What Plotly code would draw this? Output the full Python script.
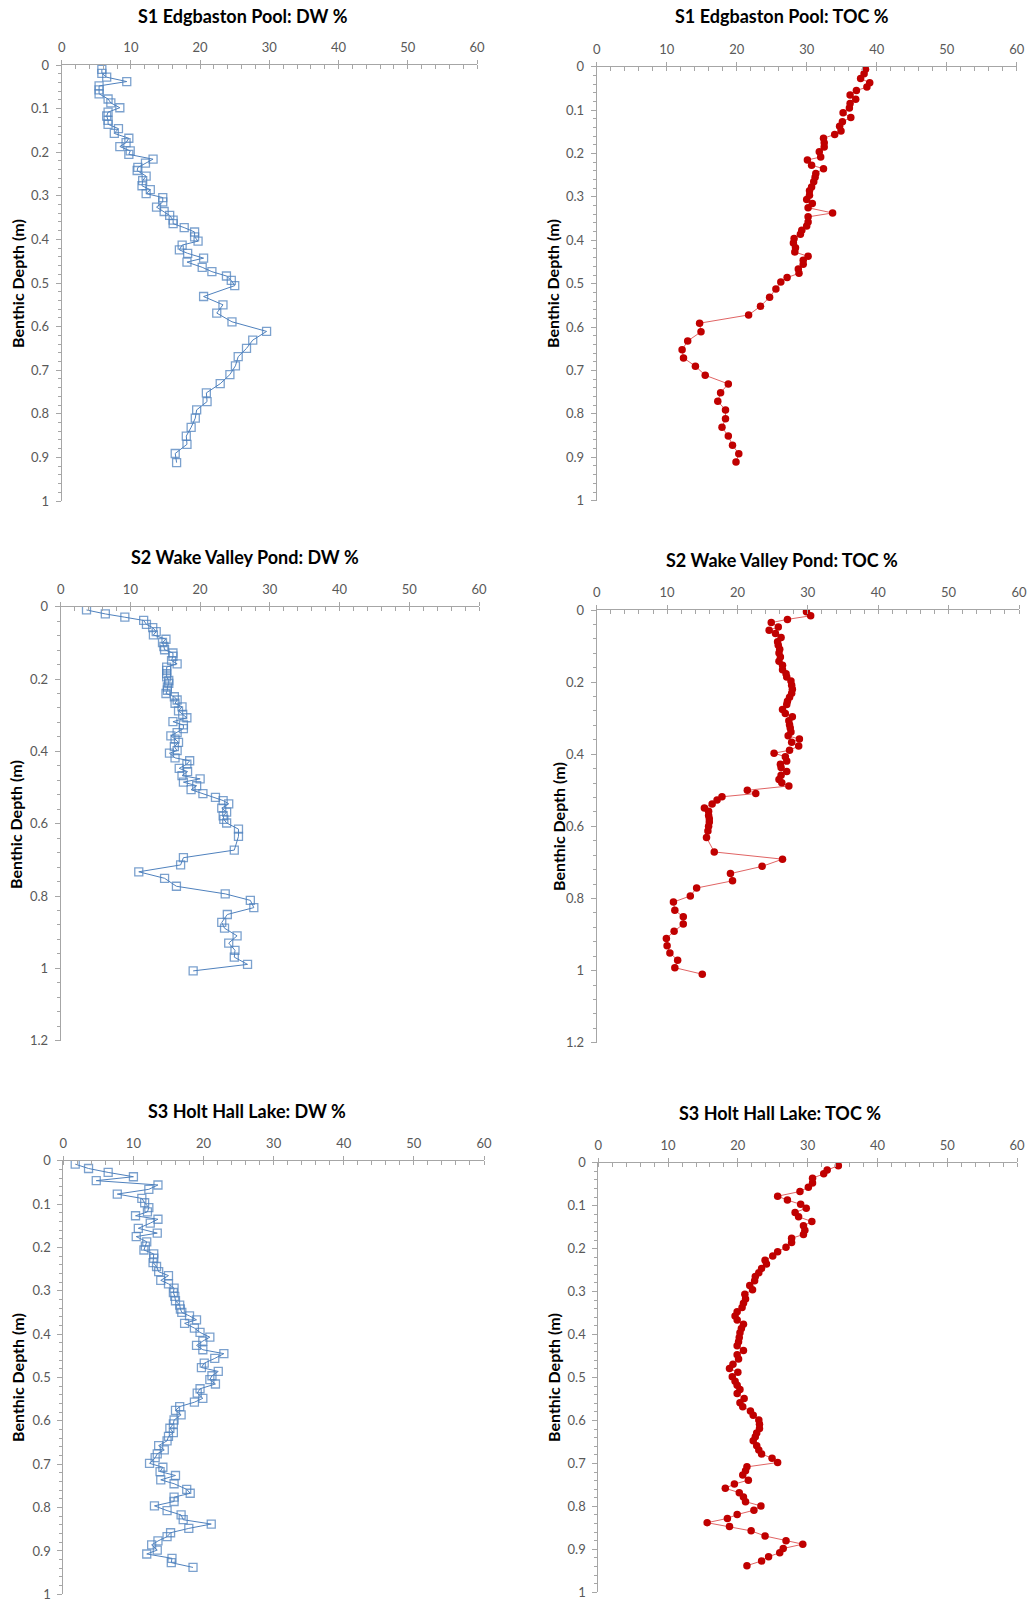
import plotly.graph_objects as go

W, H = 1033, 1602

# ---------------- data ----------------
s1_dw_depth = [0.010, 0.019, 0.028, 0.038, 0.048, 0.057, 0.066, 0.078, 0.087, 0.098, 0.108, 0.117, 0.127, 0.136,
               0.146, 0.157, 0.168, 0.178, 0.187, 0.197, 0.205, 0.216, 0.225, 0.235, 0.242, 0.255, 0.265, 0.277,
               0.286, 0.295, 0.304, 0.314, 0.326, 0.336, 0.345, 0.356, 0.364, 0.373, 0.383, 0.394, 0.404, 0.413,
               0.424, 0.432, 0.443, 0.452, 0.464, 0.474, 0.484, 0.494, 0.506, 0.531, 0.550, 0.569, 0.589, 0.611,
               0.631, 0.650, 0.669, 0.690, 0.710, 0.731, 0.752, 0.772, 0.791, 0.810, 0.831, 0.851, 0.870, 0.891,
               0.912]
s1_dw = [5.8, 5.8, 6.5, 9.4, 5.4, 5.4, 5.4, 6.7, 7.1, 8.4, 6.7, 6.5, 6.7, 6.7,
         8.2, 7.6, 9.7, 9.3, 8.4, 9.9, 9.7, 13.2, 12.1, 11.0, 10.9, 12.2, 11.7, 11.6,
         12.8, 12.2, 14.6, 14.6, 13.7, 14.8, 15.6, 16.1, 16.1, 17.7, 19.2, 19.2, 19.7, 17.4,
         17.0, 18.2, 20.5, 18.1, 20.3, 21.7, 23.8, 24.5, 25.0, 20.5, 23.3, 22.4, 24.6, 29.6,
         27.6, 26.7, 25.5, 25.1, 24.3, 22.9, 20.9, 21.0, 19.5, 19.3, 18.7, 18.0, 18.1, 16.4,
         16.6]

s1_toc_depth = [0.006, 0.016, 0.027, 0.037, 0.047, 0.055, 0.065, 0.075, 0.085, 0.095, 0.106, 0.117, 0.127, 0.137,
                0.148, 0.156, 0.165, 0.175, 0.185, 0.196, 0.208, 0.215, 0.227, 0.235, 0.246, 0.255, 0.265, 0.277,
                0.286, 0.296, 0.306, 0.315, 0.325, 0.337, 0.346, 0.358, 0.367, 0.377, 0.386, 0.396, 0.406, 0.417,
                0.427, 0.437, 0.446, 0.455, 0.466, 0.476, 0.486, 0.496, 0.512, 0.531, 0.552, 0.572, 0.591, 0.611,
                0.632, 0.652, 0.671, 0.690, 0.711, 0.731, 0.751, 0.771, 0.791, 0.811, 0.831, 0.851, 0.872, 0.892,
                0.911]
s1_toc = [38.4, 38.2, 37.7, 39.0, 38.6, 37.1, 36.2, 37.0, 36.2, 36.1, 35.2, 36.3, 35.1, 34.7,
          34.9, 34.0, 32.4, 32.5, 32.5, 31.8, 32.0, 30.1, 30.7, 32.4, 31.3, 31.2, 31.0, 30.7,
          30.4, 30.4, 30.0, 30.8, 30.2, 33.7, 30.2, 30.2, 30.0, 29.3, 29.1, 28.2, 28.1, 28.4,
          28.3, 30.2, 29.5, 29.5, 28.8, 28.9, 27.2, 26.3, 25.6, 24.7, 23.4, 21.7, 14.7, 14.9,
          13.0, 12.2, 12.4, 14.1, 15.5, 18.8, 17.7, 17.3, 18.4, 18.4, 17.9, 18.8, 19.4, 20.3,
          19.9]

s2_dw_depth = [0.009, 0.020, 0.029, 0.038, 0.049, 0.058, 0.069, 0.078, 0.090, 0.099, 0.110, 0.119, 0.128, 0.137,
               0.149, 0.158, 0.167, 0.176, 0.185, 0.194, 0.204, 0.212, 0.222, 0.231, 0.240, 0.249, 0.258, 0.267,
               0.277, 0.288, 0.298, 0.307, 0.318, 0.327, 0.337, 0.348, 0.357, 0.366, 0.375, 0.387, 0.398, 0.405,
               0.418, 0.426, 0.435, 0.447, 0.456, 0.467, 0.476, 0.485, 0.495, 0.506, 0.517, 0.527, 0.536, 0.545,
               0.557, 0.568, 0.578, 0.588, 0.598, 0.615, 0.635, 0.673, 0.694, 0.714, 0.733, 0.751, 0.773, 0.794,
               0.812, 0.832, 0.851, 0.873, 0.889, 0.910, 0.930, 0.950, 0.969, 0.989, 1.007]
s2_dw = [3.7, 6.4, 9.2, 11.9, 12.3, 13.2, 13.7, 13.3, 15.1, 14.6, 14.8, 14.9, 16.1, 16.1,
         15.9, 16.7, 15.2, 15.2, 15.2, 15.2, 15.5, 15.5, 15.3, 15.3, 15.1, 16.3, 16.7, 16.4,
         17.4, 16.9, 17.5, 18.1, 16.1, 17.6, 17.6, 16.7, 15.8, 16.4, 16.9, 16.3, 16.7, 15.6,
         16.4, 18.5, 18.1, 17.0, 18.2, 17.4, 20.0, 17.6, 19.5, 18.7, 20.4, 22.2, 23.3, 24.1,
         23.1, 23.8, 23.3, 23.4, 23.8, 25.5, 25.5, 24.9, 17.6, 17.2, 11.2, 14.9, 16.6, 23.6,
         27.2, 27.7, 23.9, 23.1, 23.5, 25.3, 24.1, 25.0, 24.9, 26.8, 19.0]

s2_toc_depth = [0.005, 0.016, 0.026, 0.035, 0.047, 0.056, 0.065, 0.076, 0.088, 0.098, 0.109, 0.119, 0.130, 0.142,
                0.153, 0.166, 0.177, 0.186, 0.197, 0.209, 0.220, 0.231, 0.242, 0.253, 0.262, 0.276, 0.287, 0.296,
                0.307, 0.318, 0.327, 0.338, 0.349, 0.358, 0.367, 0.377, 0.389, 0.397, 0.407, 0.419, 0.428, 0.437,
                0.448, 0.458, 0.470, 0.479, 0.488, 0.500, 0.509, 0.518, 0.527, 0.538, 0.549, 0.558, 0.570, 0.579,
                0.588, 0.600, 0.613, 0.631, 0.671, 0.691, 0.711, 0.731, 0.751, 0.771, 0.793, 0.810, 0.833, 0.851,
                0.871, 0.891, 0.911, 0.931, 0.951, 0.971, 0.992, 1.010]
s2_toc = [29.8, 30.4, 27.1, 24.8, 25.8, 24.5, 25.4, 26.2, 25.7, 25.8, 26.0, 25.9, 26.1, 25.9,
          26.4, 26.4, 26.9, 27.0, 27.6, 27.7, 27.8, 27.7, 27.4, 27.1, 27.0, 26.4, 26.8, 27.8,
          27.3, 27.4, 27.5, 27.6, 27.2, 28.8, 27.7, 28.7, 27.4, 25.2, 26.8, 27.0, 26.1, 26.2,
          27.0, 26.2, 25.9, 26.3, 27.3, 21.4, 22.6, 17.8, 17.1, 16.4, 15.3, 15.9, 15.9, 16.0,
          16.0, 15.9, 15.8, 15.6, 16.7, 26.4, 23.5, 19.0, 19.3, 14.2, 13.3, 10.9, 11.1, 12.3,
          12.3, 11.0, 9.9, 10.0, 10.4, 11.5, 11.1, 15.0]

s3_dw_depth = [0.008, 0.018, 0.027, 0.037, 0.046, 0.056, 0.066, 0.077, 0.087, 0.097, 0.108, 0.118, 0.127, 0.135,
               0.144, 0.156, 0.167, 0.175, 0.187, 0.197, 0.206, 0.215, 0.225, 0.235, 0.244, 0.256, 0.265, 0.276,
               0.284, 0.294, 0.304, 0.313, 0.323, 0.333, 0.342, 0.350, 0.358, 0.367, 0.375, 0.386, 0.396, 0.407,
               0.416, 0.426, 0.436, 0.445, 0.456, 0.467, 0.477, 0.486, 0.496, 0.505, 0.515, 0.526, 0.536, 0.548,
               0.557, 0.567, 0.576, 0.586, 0.598, 0.607, 0.617, 0.627, 0.636, 0.646, 0.657, 0.667, 0.676, 0.685,
               0.698, 0.707, 0.717, 0.726, 0.736, 0.745, 0.758, 0.767, 0.776, 0.786, 0.796, 0.807, 0.817, 0.828,
               0.838, 0.848, 0.858, 0.867, 0.877, 0.886, 0.898, 0.907, 0.917, 0.927, 0.938]
s3_dw = [1.7, 3.6, 6.4, 10.0, 4.7, 13.5, 12.2, 7.7, 11.2, 11.6, 12.2, 12.0, 10.3, 13.5,
         12.4, 10.7, 13.4, 10.4, 11.9, 11.7, 11.5, 12.9, 12.9, 12.8, 13.3, 13.6, 15.0, 13.9,
         15.0, 15.8, 15.7, 15.9, 16.0, 16.6, 16.7, 16.9, 18.0, 19.0, 17.3, 18.7, 19.5, 20.9,
         19.9, 19.0, 19.9, 22.9, 21.6, 20.1, 19.7, 22.1, 21.2, 20.9, 21.7, 19.5, 19.1, 19.9,
         18.7, 16.6, 16.0, 16.8, 15.8, 15.7, 15.2, 15.7, 15.0, 14.8, 13.6, 14.4, 13.4, 13.1,
         12.3, 14.2, 13.8, 16.0, 13.9, 15.8, 17.6, 18.1, 15.8, 15.8, 13.0, 14.8, 16.8, 17.1,
         21.1, 17.9, 15.3, 14.8, 13.5, 12.6, 13.4, 11.9, 15.5, 15.4, 18.5]

s3_toc_depth = [0.007, 0.017, 0.026, 0.036, 0.047, 0.057, 0.067, 0.078, 0.087, 0.097, 0.106, 0.116, 0.126, 0.137,
                0.147, 0.157, 0.167, 0.176, 0.186, 0.197, 0.207, 0.217, 0.227, 0.236, 0.246, 0.256, 0.265, 0.275,
                0.286, 0.296, 0.306, 0.317, 0.327, 0.337, 0.347, 0.357, 0.366, 0.376, 0.386, 0.396, 0.407, 0.417,
                0.426, 0.437, 0.447, 0.457, 0.469, 0.479, 0.488, 0.498, 0.509, 0.518, 0.528, 0.537, 0.549, 0.559,
                0.568, 0.578, 0.588, 0.599, 0.609, 0.619, 0.629, 0.638, 0.647, 0.659, 0.669, 0.678, 0.688, 0.698,
                0.708, 0.717, 0.727, 0.739, 0.748, 0.758, 0.768, 0.778, 0.789, 0.799, 0.809, 0.819, 0.828, 0.838,
                0.847, 0.857, 0.869, 0.880, 0.888, 0.898, 0.908, 0.917, 0.927, 0.938]
s3_toc = [34.4, 32.8, 32.3, 30.7, 30.7, 30.1, 28.9, 25.7, 27.1, 29.0, 29.8, 28.2, 28.7, 30.6,
          29.4, 29.6, 29.4, 27.7, 27.7, 26.9, 25.7, 25.0, 23.9, 24.1, 23.4, 23.0, 22.5, 22.4,
          21.7, 22.1, 21.0, 21.1, 20.8, 20.6, 19.9, 19.6, 19.9, 20.8, 20.5, 20.3, 20.2, 20.1,
          19.9, 20.8, 19.9, 20.1, 19.3, 18.8, 20.0, 19.2, 19.6, 19.9, 20.3, 19.9, 20.9, 20.3,
          20.7, 21.8, 22.2, 23.0, 23.1, 23.1, 22.7, 22.5, 22.2, 22.7, 23.0, 23.4, 24.9, 25.7,
          21.3, 21.1, 20.7, 21.5, 19.5, 18.2, 20.2, 20.8, 21.1, 23.3, 22.3, 19.9, 18.5, 15.6,
          18.8, 21.9, 23.9, 26.9, 29.3, 26.5, 26.0, 24.4, 23.4, 21.3]

panel_titles = ["S1 Edgbaston Pool: DW %", "S1 Edgbaston Pool: TOC %",
                "S2 Wake Valley Pond: DW %", "S2 Wake Valley Pond: TOC %",
                "S3 Holt Hall Lake: DW %", "S3 Holt Hall Lake: TOC %"]
y_title = "Benthic Depth (m)"
x_ticks = [0, 10, 20, 30, 40, 50, 60]

# ---------------- layout geometry (pixels) ----------------
panels = [
    dict(d=s1_dw_depth, v=s1_dw, kind="dw", box=(61.7, 477.0, 65.0, 501.0), ymax=1.0, ydt=0.1,
         tpos=(243, 16), ytpos=(17, 284)),
    dict(d=s1_toc_depth, v=s1_toc, kind="toc", box=(596.7, 1016.7, 66.7, 500.7), ymax=1.0, ydt=0.1,
         tpos=(782, 16), ytpos=(552, 284)),
    dict(d=s2_dw_depth, v=s2_dw, kind="dw", box=(60.7, 479.0, 606.7, 1040.7), ymax=1.2, ydt=0.2,
         tpos=(245, 557), ytpos=(15, 825)),
    dict(d=s2_toc_depth, v=s2_toc, kind="toc", box=(596.7, 1019.0, 610.0, 1042.7), ymax=1.2, ydt=0.2,
         tpos=(782, 560), ytpos=(558, 827)),
    dict(d=s3_dw_depth, v=s3_dw, kind="dw", box=(63.3, 484.0, 1160.7, 1594.3), ymax=1.0, ydt=0.1,
         tpos=(247, 1111), ytpos=(17, 1378)),
    dict(d=s3_toc_depth, v=s3_toc, kind="toc", box=(598.3, 1017.0, 1162.7, 1592.3), ymax=1.0, ydt=0.1,
         tpos=(780, 1113), ytpos=(553, 1378)),
]

FONT = "Lato, 'Open Sans', sans-serif"
AXIS_COL = "#a6a6a6"
TICK_COL = "#595959"

fig = go.Figure()
annotations = []

for i, p in enumerate(panels, start=1):
    xa = "x" if i == 1 else f"x{i}"
    ya = "y" if i == 1 else f"y{i}"
    if p["kind"] == "dw":
        fig.add_trace(go.Scatter(
            x=p["v"], y=p["d"], xaxis=xa, yaxis=ya, mode="lines+markers",
            line=dict(color="#4f81bd", width=1),
            marker=dict(symbol="square-open", size=8, color="rgba(79,129,189,0.75)",
                        line=dict(width=1.3)),
            showlegend=False, hoverinfo="x+y"))
    else:
        fig.add_trace(go.Scatter(
            x=p["v"], y=p["d"], xaxis=xa, yaxis=ya, mode="lines+markers",
            line=dict(color="#e06464", width=1),
            marker=dict(symbol="circle", size=7.5, color="#c00000"),
            showlegend=False, hoverinfo="x+y"))

    x0, x1, y0, y1 = p["box"]
    xdom = [x0 / W, x1 / W]
    ydom = [1 - y1 / H, 1 - y0 / H]
    fig.layout[f"xaxis{'' if i == 1 else i}"] = dict(
        domain=xdom, anchor=ya, side="top", range=[0, 60], tickvals=x_ticks, automargin=False,
        showline=True, linecolor=AXIS_COL, linewidth=1, showgrid=False, zeroline=False,
        ticks="outside", ticklen=4, tickcolor=AXIS_COL, ticklabelstandoff=3,
        tickfont=dict(family=FONT, size=13, color=TICK_COL),
        minor=dict(dtick=2, ticks="inside", ticklen=4, tickcolor=AXIS_COL, showgrid=False),
        fixedrange=True)
    fig.layout[f"yaxis{'' if i == 1 else i}"] = dict(
        domain=ydom, anchor=xa, range=[p["ymax"], 0], dtick=p["ydt"], tick0=0, automargin=False,
        showline=True, linecolor=AXIS_COL, linewidth=1, showgrid=False, zeroline=False,
        ticks="outside", ticklen=5, tickcolor=AXIS_COL, ticklabelstandoff=4,
        tickfont=dict(family=FONT, size=13, color=TICK_COL),
        minor=dict(dtick=p["ydt"] / 5, ticks="outside", ticklen=3, tickcolor=AXIS_COL, showgrid=False),
        fixedrange=True)

    tx, ty = p["tpos"]
    annotations.append(dict(text=f"<b>{panel_titles[i-1]}</b>", x=tx / W, y=1 - ty / H,
                            xref="paper", yref="paper", xanchor="center", yanchor="middle",
                            showarrow=False, font=dict(family=FONT, size=18, color="#000000")))
    yx, yy = p["ytpos"]
    annotations.append(dict(text=f"<b>{y_title}</b>", x=yx / W, y=1 - yy / H, textangle=-90,
                            xref="paper", yref="paper", xanchor="center", yanchor="middle",
                            showarrow=False, font=dict(family=FONT, size=16, color="#000000")))

fig.update_layout(
    width=W, height=H, margin=dict(l=0, r=0, t=0, b=0, autoexpand=False),
    paper_bgcolor="white", plot_bgcolor="white",
    annotations=annotations, showlegend=False)

fig.write_html("out.html", config={"displayModeBar": False},
               post_script="document.body.style.margin='0px';document.body.style.overflow='hidden';")
